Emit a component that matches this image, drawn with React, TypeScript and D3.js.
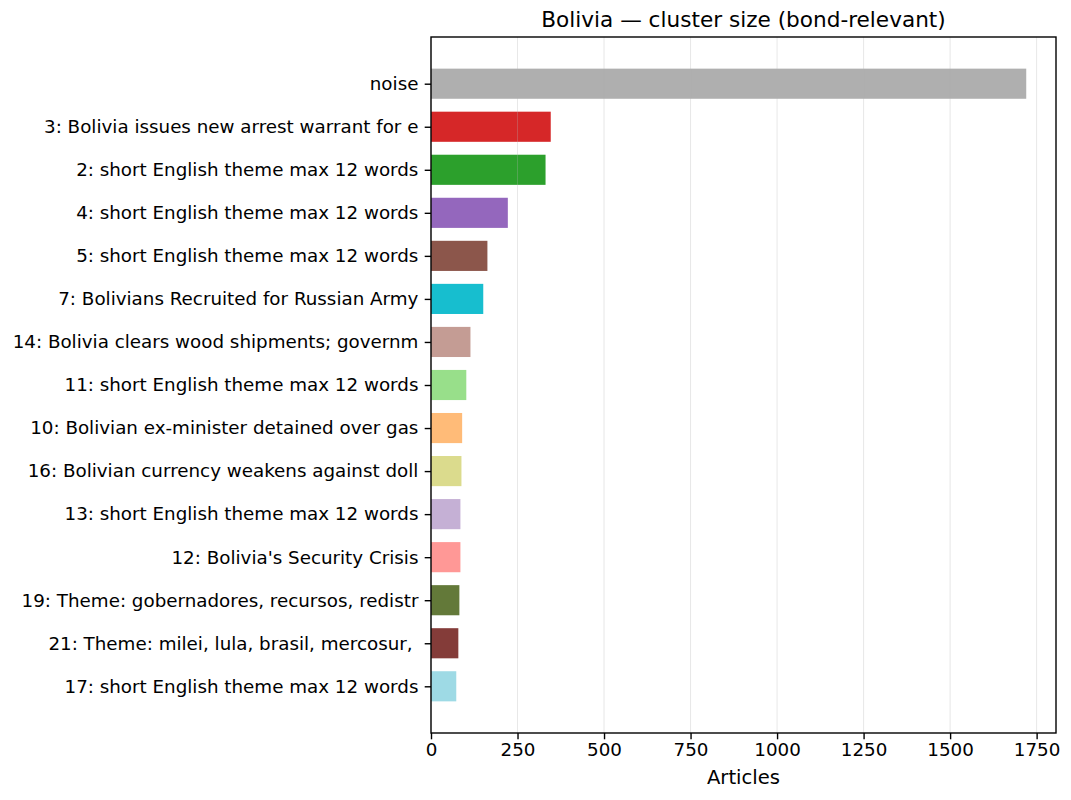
import React, { useEffect, useRef } from 'react';
import * as d3 from 'd3';

const clusterLabels = [
    'noise',
    '3: Bolivia issues new arrest warrant for e',
    '2: short English theme max 12 words',
    '4: short English theme max 12 words',
    '5: short English theme max 12 words',
    '7: Bolivians Recruited for Russian Army',
    '14: Bolivia clears wood shipments; governm',
    '11: short English theme max 12 words',
    '10: Bolivian ex-minister detained over gas',
    '16: Bolivian currency weakens against doll',
    '13: short English theme max 12 words',
    "12: Bolivia's Security Crisis",
    '19: Theme: gobernadores, recursos, redistr',
    '21: Theme: milei, lula, brasil, mercosur, ',
    '17: short English theme max 12 words',
];

const articleCounts = [1720, 346, 331, 222, 163, 151, 114, 102, 90, 88, 85, 85, 82, 79, 73];

const barColors = [
    '#afafaf', '#d62728', '#2ca02c', '#9467bd', '#8c564b',
    '#17becf', '#c49c94', '#98df8a', '#ffbb78', '#dbdb8d',
    '#c5b0d5', '#ff9896', '#637939', '#843c39', '#9edae5',
];

const xTicks = [0, 250, 500, 750, 1000, 1250, 1500, 1750];

const App: React.FC = () => {
    const chartRef = useRef<SVGSVGElement | null>(null);

    useEffect(() => {
        if (!chartRef.current) return;
        const svg = d3.select(chartRef.current);
        svg.selectAll('*').remove();

        const width = 1071;
        const height = 800;
        const margin = { top: 37, right: 15, bottom: 67, left: 431 };
        const font = 'DejaVu Sans, sans-serif';

        svg.attr('width', width).attr('height', height);
        svg.append('rect').attr('width', width).attr('height', height).attr('fill', '#fff');

        const n = articleCounts.length;
        const barHeight = 0.7;
        const span = (n - 1) + barHeight;
        const pad = span * 0.05;

        const x = d3.scaleLinear()
            .domain([0, (d3.max(articleCounts) as number) * 1.05])
            .range([margin.left, width - margin.right]);

        const y = d3.scaleLinear()
            .domain([-barHeight / 2 - pad, n - 1 + barHeight / 2 + pad])
            .range([margin.top, height - margin.bottom]);

        svg.append('g')
            .selectAll('rect')
            .data(articleCounts)
            .enter().append('rect')
            .attr('x', x(0))
            .attr('y', (_, i) => y(i - barHeight / 2))
            .attr('width', d => x(d) - x(0))
            .attr('height', y(barHeight) - y(0))
            .attr('fill', (_, i) => barColors[i]);

        // grid on top, faint
        svg.append('g')
            .selectAll('line')
            .data(xTicks)
            .enter().append('line')
            .attr('x1', d => x(d)).attr('x2', d => x(d))
            .attr('y1', margin.top).attr('y2', height - margin.bottom)
            .attr('stroke', '#b0b0b0')
            .attr('stroke-opacity', 0.3)
            .attr('stroke-width', 1);

        const xAxis = svg.append('g')
            .attr('transform', `translate(0,${height - margin.bottom})`)
            .call(d3.axisBottom(x).tickValues(xTicks).tickFormat(d3.format('d')).tickSize(6.3).tickPadding(4));
        xAxis.select('.domain').remove();
        xAxis.selectAll('line').attr('stroke-width', 1.4);
        xAxis.selectAll('text').attr('font-family', font).attr('font-size', 18.3).attr('fill', '#000');

        const yAxis = svg.append('g')
            .attr('transform', `translate(${margin.left},0)`)
            .call(d3.axisLeft(y).tickValues(d3.range(n)).tickFormat((d) => clusterLabels[d as number]).tickSize(6.3).tickPadding(6.3));
        yAxis.select('.domain').remove();
        yAxis.selectAll('line').attr('stroke-width', 1.4);
        yAxis.selectAll('text')
            .attr('font-family', font)
            .attr('font-size', 18.3)
            .attr('fill', '#000')
            .style('white-space', 'pre');

        // frame
        svg.append('rect')
            .attr('x', margin.left).attr('y', margin.top)
            .attr('width', width - margin.right - margin.left)
            .attr('height', height - margin.bottom - margin.top)
            .attr('fill', 'none')
            .attr('stroke', '#000')
            .attr('stroke-width', 1.4);

        svg.append('text')
            .attr('x', (margin.left + width - margin.right) / 2)
            .attr('y', 27)
            .attr('text-anchor', 'middle')
            .attr('font-family', font)
            .attr('font-size', 21.6)
            .text('Bolivia — cluster size (bond-relevant)');

        svg.append('text')
            .attr('x', (margin.left + width - margin.right) / 2)
            .attr('y', 784)
            .attr('text-anchor', 'middle')
            .attr('font-family', font)
            .attr('font-size', 19.6)
            .text('Articles');
    }, []);

    return (
        <svg ref={chartRef} style={{ position: 'absolute', left: 0, top: 0, display: 'block' }} />
    );
};

export default App;
